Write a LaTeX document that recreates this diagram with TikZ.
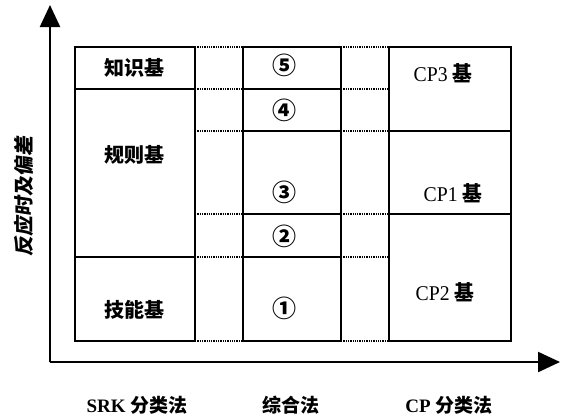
\documentclass[tikz,border=0pt]{standalone}
\usepackage{fontspec}
\setmainfont{Liberation Serif}
\newfontfamily\cjk{Noto Sans CJK SC}
\usetikzlibrary{arrows.meta}
\tikzset{
  cell/.style={draw, line width=1.9pt, inner sep=0pt, outer sep=0pt},
  axisline/.style={line width=2.3pt, -{Triangle[length=22pt,width=20pt]}},
  link/.style={line width=2.2pt, dash pattern=on 1.3pt off 1pt},
  lab/.style={font=\cjk\bfseries\fontsize{20}{22}\selectfont, inner sep=0pt},
  num/.style={font=\cjk\bfseries\fontsize{24}{26}\selectfont, inner sep=0pt},
  cplab/.style={font=\fontsize{21}{23}\selectfont, inner sep=0pt, xscale=0.94},
  bottom/.style={font=\bfseries\fontsize{19}{21}\selectfont, inner sep=0pt}
}
\begin{document}
\begin{tikzpicture}[x=1pt,y=-1pt]
\useasboundingbox (0,0) rectangle (564,416);
% axes
\coordinate (O) at (50,362);
\coordinate (ytip) at (50,5);
\coordinate (xtip) at (560,362);
\draw[axisline] (O) -- (ytip);
\draw[axisline] (O) -- (xtip);
% SRK column (75-195)
\node[cell, minimum width=120pt, minimum height=42pt] (zs) at (135,68) {};
\node[cell, minimum width=120pt, minimum height=168pt] (gz) at (135,173) {};
\node[cell, minimum width=120pt, minimum height=84pt] (jn) at (135,299) {};
% middle column (243-341)
\node[cell, minimum width=98pt, minimum height=42pt] (n5) at (292,68) {};
\node[cell, minimum width=98pt, minimum height=42pt] (n4) at (292,110) {};
\node[cell, minimum width=98pt, minimum height=83pt] (n3) at (292,172.5) {};
\node[cell, minimum width=98pt, minimum height=43pt] (n2) at (292,235.5) {};
\node[cell, minimum width=98pt, minimum height=84pt] (n1) at (292,299) {};
% CP column (389-511)
\node[cell, minimum width=122pt, minimum height=84pt] (c3) at (450,89) {};
\node[cell, minimum width=122pt, minimum height=83pt] (c1) at (450,172.5) {};
\node[cell, minimum width=122pt, minimum height=127pt] (c2) at (450,277.5) {};
% dotted links left gap
\draw[link] (zs.north east) -- (n5.north west);
\draw[link] (zs.south east) -- (n5.south west);
\draw[link] (n4.south west -| gz.east) -- (n4.south west);
\draw[link] (n3.south west -| gz.east) -- (n3.south west);
\draw[link] (gz.south east) -- (n2.south west);
\draw[link] (jn.south east) -- (n1.south west);
% dotted links right gap
\draw[link] (n5.north east) -- (c3.north west);
\draw[link] (n5.south east) -- (c3.west |- n5.south east);
\draw[link] (n4.south east) -- (c1.north west);
\draw[link] (n3.south east) -- (c2.north west);
\draw[link] (n2.south east) -- (c2.west |- n2.south east);
\draw[link] (n1.south east) -- (c2.south west);
% labels
\node[lab] (tzs) at (134,68) {知识基};
\node[lab] (tgz) at (134,155) {规则基};
\node[lab] (tjn) at (134,310) {技能基};
\node[num] (t5) at (284,65) {⑤};
\node[num] (t4) at (284,110) {④};
\node[num] (t3) at (284,192) {③};
\node[num] (t2) at (284,236) {②};
\node[num] (t1) at (284,308) {①};
\node[cplab] (tc3) at (443,73) {CP3 {\cjk\bfseries 基}};
\node[cplab] (tc1) at (453,193) {CP1 {\cjk\bfseries 基}};
\node[cplab] (tc2) at (445,292) {CP2 {\cjk\bfseries 基}};
\node[bottom] (b1) at (137,405) {SRK {\cjk 分类法}};
\node[bottom] (b2) at (291,405) {{\cjk 综合法}};
\node[bottom] (b3) at (449,405) {CP {\cjk 分类法}};
\node[lab, rotate=90, xslant=0.15] (ylab) at (24,195) {反应时及偏差};
\end{tikzpicture}
\end{document}
